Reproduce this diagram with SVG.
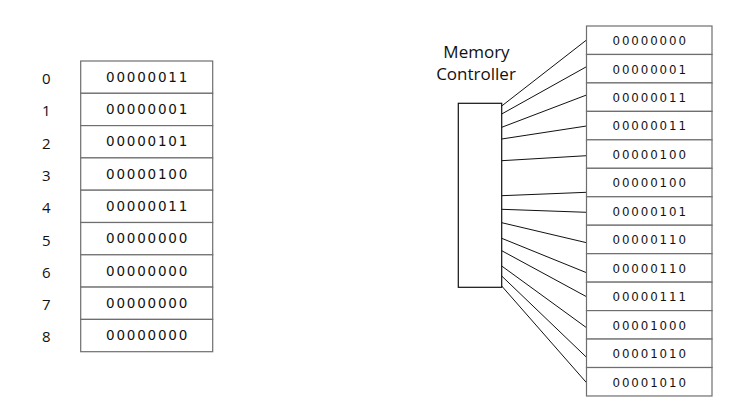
<svg xmlns="http://www.w3.org/2000/svg" width="754" height="418" viewBox="0 0 754 418">
  <style>
    .cell { fill: #ffffff; stroke: #6e6e6e; stroke-width: 1.2; }
    .val { font-family: "DejaVu Sans", "Liberation Sans", sans-serif; font-size: 13.5px; fill: #111; text-anchor: middle; letter-spacing: 1.8px; }
    .val-s { font-family: "DejaVu Sans", "Liberation Sans", sans-serif; font-size: 11.8px; fill: #111; text-anchor: middle; letter-spacing: 1.9px; }
    .idx { font-family: "Open Sans", "Liberation Sans", sans-serif; font-size: 15px; fill: #111; }
    .title { font-family: "Open Sans", "Liberation Sans", sans-serif; font-size: 17px; fill: #111; text-anchor: middle; }
    .wire { stroke: #111; stroke-width: 1; fill: none; }
    .ctrl { fill: #ffffff; stroke: #111; stroke-width: 1.2; }
  </style>

  <!-- Left memory: addresses 0-8 -->
  <g id="memory-left">
    <g id="left-row-0"><rect class="cell" x="80.7" y="61" width="132" height="32.3"/><text class="idx" x="42" y="84">0</text><text class="val" x="147.6" y="81.8">00000011</text></g>
    <g id="left-row-1"><rect class="cell" x="80.7" y="93.3" width="132" height="32.3"/><text class="idx" x="42" y="116.3">1</text><text class="val" x="147.6" y="114.1">00000001</text></g>
    <g id="left-row-2"><rect class="cell" x="80.7" y="125.6" width="132" height="32.3"/><text class="idx" x="42" y="148.6">2</text><text class="val" x="147.6" y="146.4">00000101</text></g>
    <g id="left-row-3"><rect class="cell" x="80.7" y="157.9" width="132" height="32.3"/><text class="idx" x="42" y="180.9">3</text><text class="val" x="147.6" y="178.7">00000100</text></g>
    <g id="left-row-4"><rect class="cell" x="80.7" y="190.2" width="132" height="32.3"/><text class="idx" x="42" y="213.2">4</text><text class="val" x="147.6" y="211">00000011</text></g>
    <g id="left-row-5"><rect class="cell" x="80.7" y="222.5" width="132" height="32.3"/><text class="idx" x="42" y="245.5">5</text><text class="val" x="147.6" y="243.3">00000000</text></g>
    <g id="left-row-6"><rect class="cell" x="80.7" y="254.8" width="132" height="32.3"/><text class="idx" x="42" y="277.8">6</text><text class="val" x="147.6" y="275.6">00000000</text></g>
    <g id="left-row-7"><rect class="cell" x="80.7" y="287.1" width="132" height="32.3"/><text class="idx" x="42" y="310.1">7</text><text class="val" x="147.6" y="307.9">00000000</text></g>
    <g id="left-row-8"><rect class="cell" x="80.7" y="319.4" width="132" height="32.3"/><text class="idx" x="42" y="342.4">8</text><text class="val" x="147.6" y="340.2">00000000</text></g>
  </g>

  <!-- Memory controller -->
  <g id="controller">
    <text class="title" x="476.5" y="58">Memory</text>
    <text class="title" x="476" y="79.5">Controller</text>
    <rect class="ctrl" x="458.3" y="103.3" width="43.4" height="184"/>
  </g>

  <!-- Wires from controller to each memory cell -->
  <g id="connectors">
    <line class="wire" x1="501.7" y1="106" x2="586.5" y2="40"/>
    <line class="wire" x1="501.7" y1="114" x2="586.5" y2="66.7"/>
    <line class="wire" x1="501.7" y1="127.3" x2="586.5" y2="95"/>
    <line class="wire" x1="501.7" y1="139" x2="586.5" y2="126"/>
    <line class="wire" x1="501.7" y1="160.7" x2="586.5" y2="155.7"/>
    <line class="wire" x1="501.7" y1="195.7" x2="586.5" y2="192.3"/>
    <line class="wire" x1="501.7" y1="209.3" x2="586.5" y2="212.3"/>
    <line class="wire" x1="501.7" y1="222.7" x2="586.5" y2="242.7"/>
    <line class="wire" x1="501.7" y1="238.3" x2="586.5" y2="272.7"/>
    <line class="wire" x1="501.7" y1="250.7" x2="586.5" y2="296.7"/>
    <line class="wire" x1="501.7" y1="266" x2="586.5" y2="327.7"/>
    <line class="wire" x1="501.7" y1="276" x2="586.5" y2="357.3"/>
    <line class="wire" x1="501.7" y1="286" x2="586.5" y2="382.7"/>
  </g>

  <!-- Right memory: 13 cells -->
  <g id="memory-right">
    <g id="right-row-0"><rect class="cell" x="586.5" y="26" width="125.5" height="28.46"/><text class="val-s" x="650.2" y="45">00000000</text></g>
    <g id="right-row-1"><rect class="cell" x="586.5" y="54.46" width="125.5" height="28.46"/><text class="val-s" x="650.2" y="73.5">00000001</text></g>
    <g id="right-row-2"><rect class="cell" x="586.5" y="82.92" width="125.5" height="28.46"/><text class="val-s" x="650.2" y="101.9">00000011</text></g>
    <g id="right-row-3"><rect class="cell" x="586.5" y="111.38" width="125.5" height="28.46"/><text class="val-s" x="650.2" y="130.4">00000011</text></g>
    <g id="right-row-4"><rect class="cell" x="586.5" y="139.84" width="125.5" height="28.46"/><text class="val-s" x="650.2" y="158.8">00000100</text></g>
    <g id="right-row-5"><rect class="cell" x="586.5" y="168.3" width="125.5" height="28.46"/><text class="val-s" x="650.2" y="187.3">00000100</text></g>
    <g id="right-row-6"><rect class="cell" x="586.5" y="196.76" width="125.5" height="28.46"/><text class="val-s" x="650.2" y="215.8">00000101</text></g>
    <g id="right-row-7"><rect class="cell" x="586.5" y="225.22" width="125.5" height="28.46"/><text class="val-s" x="650.2" y="244.2">00000110</text></g>
    <g id="right-row-8"><rect class="cell" x="586.5" y="253.68" width="125.5" height="28.46"/><text class="val-s" x="650.2" y="272.7">00000110</text></g>
    <g id="right-row-9"><rect class="cell" x="586.5" y="282.14" width="125.5" height="28.46"/><text class="val-s" x="650.2" y="301.1">00000111</text></g>
    <g id="right-row-10"><rect class="cell" x="586.5" y="310.6" width="125.5" height="28.46"/><text class="val-s" x="650.2" y="329.6">00001000</text></g>
    <g id="right-row-11"><rect class="cell" x="586.5" y="339.06" width="125.5" height="28.46"/><text class="val-s" x="650.2" y="358.1">00001010</text></g>
    <g id="right-row-12"><rect class="cell" x="586.5" y="367.52" width="125.5" height="28.46"/><text class="val-s" x="650.2" y="386.5">00001010</text></g>
  </g>
</svg>
